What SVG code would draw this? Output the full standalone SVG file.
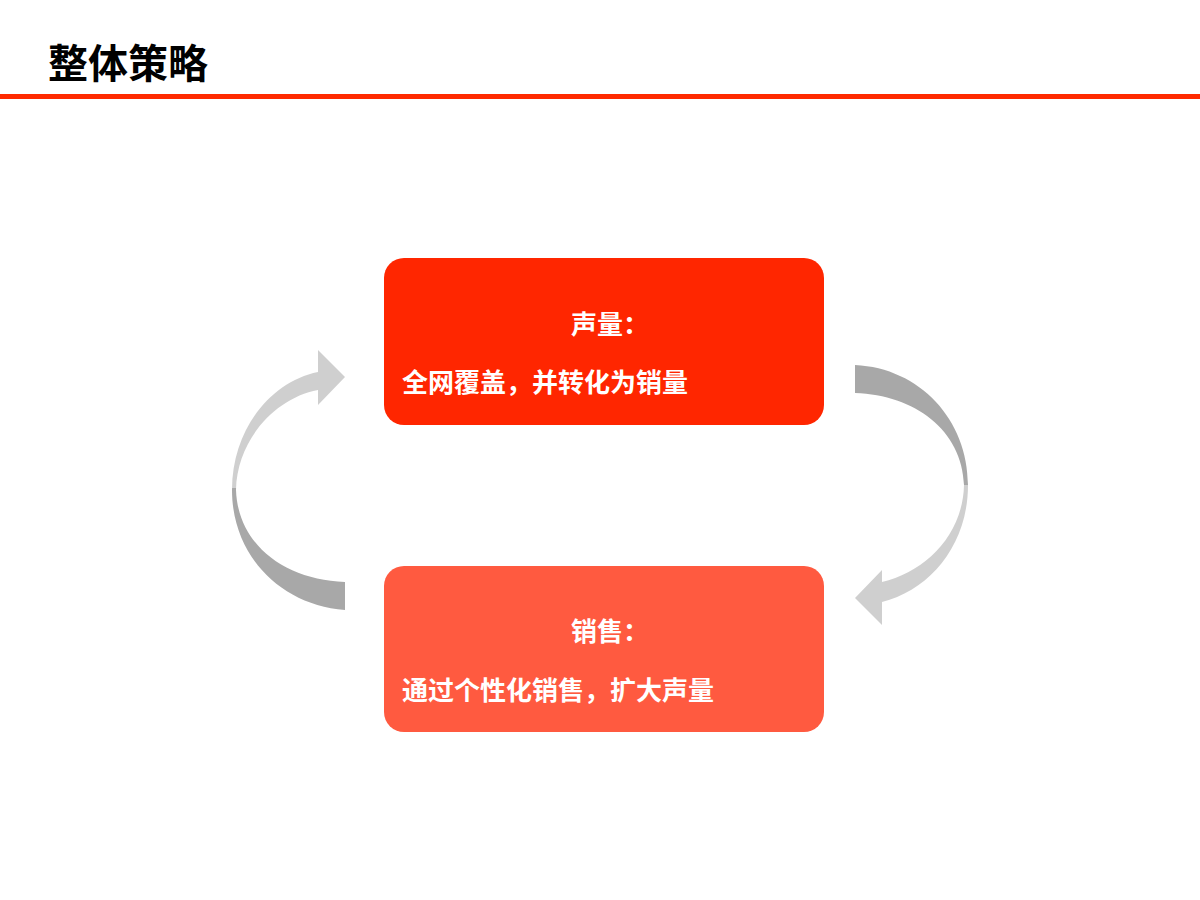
<svg xmlns="http://www.w3.org/2000/svg" width="1200" height="900" viewBox="0 0 1200 900">
<style>
text{font-family:"Liberation Sans","Noto Sans CJK SC",sans-serif;font-weight:bold}
.t{fill:#fff;font-size:26px}
</style>
<defs>
<linearGradient id="gl" x1="0" y1="350" x2="0" y2="610" gradientUnits="userSpaceOnUse">
<stop offset="0.53" stop-color="#cfcfcf"/><stop offset="0.53" stop-color="#a8a8a8"/></linearGradient>
<linearGradient id="gr" x1="0" y1="365" x2="0" y2="625" gradientUnits="userSpaceOnUse">
<stop offset="0.46" stop-color="#a8a8a8"/><stop offset="0.46" stop-color="#cfcfcf"/></linearGradient>
</defs>
<rect width="1200" height="900" fill="#fff"/>
<text x="48" y="78" font-size="40" fill="#000">整体策略</text>
<rect x="0" y="94" width="1200" height="5" fill="#ff2a00"/>
<g id="connectors">
<path fill="url(#gl)" d="M345,610 C280,605 232,555 232,490 C232,430 270,382 318,372 L318,350 L345,377 L318,405 L318,390 C275,398 237,440 236,490 C238,545 285,580 345,582 Z"/>
<path fill="url(#gr)" d="M855,365 C920,368 968,420 968,485 C968,545 930,590 882,602 L882,625 L855,598 L882,570 L882,582 C925,572 963,535 964,485 C962,430 915,395 855,393 Z"/>
</g>
<g id="n1">
<rect x="384" y="258" width="440" height="167" rx="20" fill="#ff2600"/>
<text class="t" x="610" y="334" text-anchor="middle">声量：</text>
<text class="t" x="402" y="392">全网覆盖，并转化为销量</text>
</g>
<g id="n2">
<rect x="384" y="566" width="440" height="166" rx="20" fill="#ff5a40"/>
<text class="t" x="610" y="641" text-anchor="middle">销售：</text>
<text class="t" x="402" y="700">通过个性化销售，扩大声量</text>
</g>
</svg>
